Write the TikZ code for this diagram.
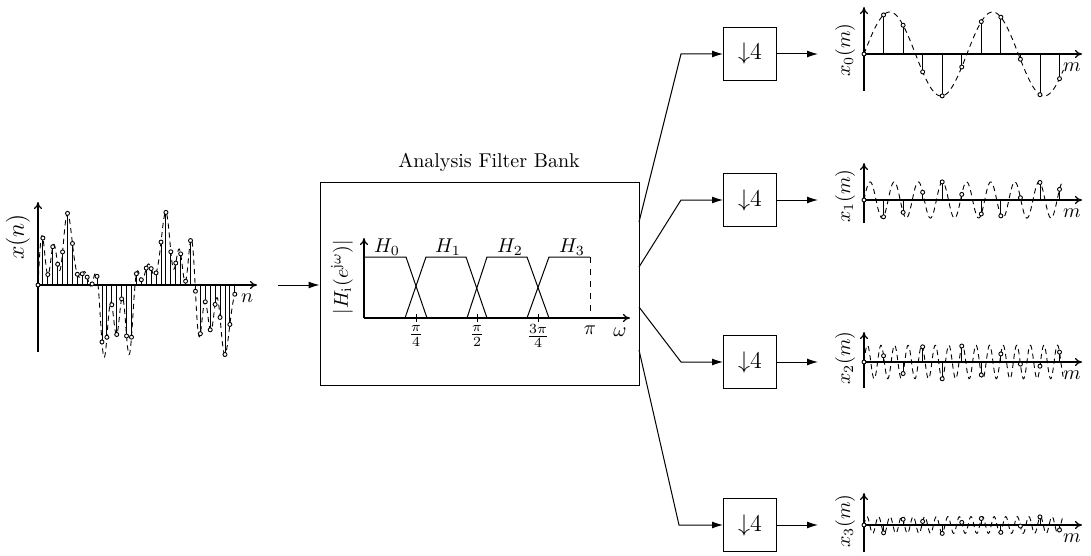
\documentclass[tikz,border=0pt]{standalone}
\usetikzlibrary{arrows.meta}
\begin{document}
\begin{tikzpicture}[x=0.5pt,y=-0.5pt,
  declare function={
    sigin(\t)=sin(17.1*\t)+0.43*sin(72.9*\t)+0.4*sin(129.6*\t)+0.2*sin(152.1*\t);
  },
  axis/.style={line width=0.6pt,-{To[length=3.5pt,width=4pt]}},
  stem/.style={line width=0.45pt},
  dot/.style={line width=0.45pt,fill=white},
  curve/.style={line width=0.45pt,dash pattern=on 2.6pt off 2pt},
  conn/.style={line width=0.5pt,-{Latex[length=5.5pt,width=3.5pt]}},
  dbox/.style={draw,line width=0.5pt,minimum width=26.5pt,minimum height=26.5pt,inner sep=0pt,font=\large},
  resp/.style={line width=0.5pt}
]
\useasboundingbox (0,0) rectangle (1091,556);

% ---------- input signal x(n) ----------
\draw[axis] (38,352) -- (38,202);
\draw[axis] (38,285) -- (257,285);
\node[rotate=90,font=\large] (xnl) at (18,237) {$x(n)$};
\node (nl) at (247,298) {$n$};
\draw[curve] plot[domain=0:40,samples=401] ({38+4.92*\x},{285-42.4*sigin(\x)});
\foreach \n in {0,...,40}{
  \pgfmathsetmacro{\v}{sigin(\n)}
  \draw[stem] ({38+4.92*\n},285) -- ({38+4.92*\n},{285-42.4*\v});
  \draw[dot] ({38+4.92*\n},{285-42.4*\v}) circle[radius=1pt];
}

% ---------- analysis filter bank ----------
\node[draw,line width=0.5pt,minimum width=159.5pt,minimum height=101.5pt,inner sep=0pt] (fb) at (479.5,283.5) {};
\node (fbt) at (489,162) {Analysis Filter Bank};
\coordinate (in0) at (278,285);
\draw[conn] (in0) -- (in0 -| fb.west);

% magnitude responses
\draw[axis] (364,318) -- (364,238);
\draw[axis] (364,318) -- (630,318);
\draw[resp] (364,257) -- (406,257) -- (427,318);
\draw[resp] (405,318) -- (426,257) -- (466,257) -- (487,318);
\draw[resp] (467,318) -- (487,257) -- (527,257) -- (549,318);
\draw[resp] (527,318) -- (549,257) -- (590,257);
\draw[resp,dashed] (590,257) -- (590,318);
\foreach \p in {416,477,538}{\draw[line width=0.5pt] (\p,314) -- (\p,322);}
\node (t1) at (416,336) {$\frac{\pi}{4}$};
\node (t2) at (477,336) {$\frac{\pi}{2}$};
\node (t3) at (538,336) {$\frac{3\pi}{4}$};
\node (t4) at (590,330) {$\pi$};
\node (wl) at (620,332) {$\omega$};
\node[rotate=90] (hl) at (342,277) {$|H_{\mathrm{i}}(e^{\mathrm{j}\omega})|$};
\node (h0) at (387,247) {$H_0$};
\node (h1) at (448,247) {$H_1$};
\node (h2) at (510,247) {$H_2$};
\node (h3) at (572,247) {$H_3$};

% ---------- branches and downsamplers ----------
\coordinate (s0) at (639,222); \coordinate (b0) at (681,54);
\coordinate (s1) at (639,267); \coordinate (b1) at (681,200);
\coordinate (s2) at (639,307); \coordinate (b2) at (681,362);
\coordinate (s3) at (639,350); \coordinate (b3) at (679,525);
\node[dbox] (d0) at (750,54) {$\downarrow$4};
\node[dbox] (d1) at (750,200) {$\downarrow$4};
\node[dbox] (d2) at (750,362) {$\downarrow$4};
\node[dbox] (d3) at (750,525) {$\downarrow$4};
\coordinate (e0) at (818,54);
\coordinate (e1) at (818,200);
\coordinate (e2) at (818,362);
\coordinate (e3) at (818,525);
\foreach \k in {0,1,2,3}{
  \draw[conn] (s\k) -- (b\k) -- (d\k);
  \draw[conn] (d\k) -- (e\k);
}

% ---------- subband outputs x_k(m) ----------
% origin y, axis below, axis above, amplitude, frequency (deg per sample)
\foreach \k/\oy/\dn/\up/\A/\f in {0/54/37/47/42/68.4, 1/200/23/37/18.1/291.6,
                                  2/362/26/30/16.8/518.4, 3/525/27/32/8.4/608.4}{
  \draw[axis] (864,\oy+\dn) -- (864,\oy-\up);
  \draw[axis] (864,\oy) -- (1082,\oy);
  \node[rotate=90] (xl\k) at (845,\oy-4) {$x_{\k}(m)$};
  \node (ml\k) at (1072,\oy+13) {$m$};
  \draw[curve] plot[domain=0:10.2,samples=301] ({864+19.55*\x},{\oy-\A*sin(\f*\x)});
  \foreach \m in {0,...,10}{
    \pgfmathsetmacro{\v}{\A*sin(\f*\m)}
    \draw[stem] ({864+19.55*\m},\oy) -- ({864+19.55*\m},{\oy-\v});
    \draw[dot] ({864+19.55*\m},{\oy-\v}) circle[radius=1pt];
  }
}
\end{tikzpicture}
\end{document}
